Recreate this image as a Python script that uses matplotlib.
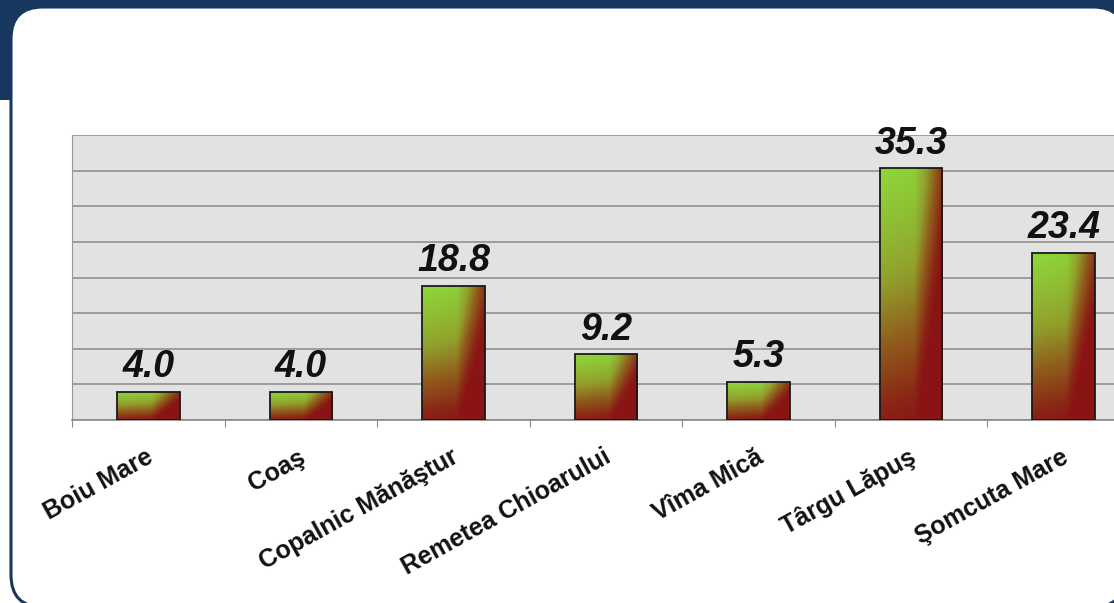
import numpy as np
import matplotlib
matplotlib.use("Agg")
from matplotlib import pyplot as plt
from matplotlib.patches import Rectangle, FancyBboxPatch
from matplotlib.colors import LinearSegmentedColormap

# data
places = ["Boiu Mare", "Coaş", "Copalnic Mănăştur", "Remetea Chioarului",
          "Vîma Mică", "Târgu Lăpuş", "Şomcuta Mare"]
values = [4.0, 4.0, 18.8, 9.2, 5.3, 35.3, 23.4]

navy = "#17375e"
W, H = 1114, 603

fig = plt.figure(figsize=(W / 100, H / 100), dpi=100)
fig.patch.set_facecolor(navy)

# frame: white strip left-bottom, rounded white card (pixel coords, origin bottom-left)
fig.patches.append(Rectangle((0, 0), 11, H - 100, transform=None, facecolor="white",
                             edgecolor="none", zorder=0.5))
fig.patches.append(Rectangle((0, 0), 34, 20, transform=None, facecolor="white",
                             edgecolor="none", zorder=0.5))
card = FancyBboxPatch((11, -4), 1125 - 11, H - 7 + 4,
                      boxstyle="round,pad=0,rounding_size=32", transform=None,
                      facecolor="white", edgecolor=navy, linewidth=2.2, zorder=1)
fig.patches.append(card)

ax = fig.add_axes([72 / W, (H - 420) / H, 1068 / W, 285 / H])
ax.set_zorder(2)
ax.set_facecolor("#e2e2e2")

cmap = LinearSegmentedColormap.from_list(
    "gr", [(0, "#8ed63a"), (0.35, "#92a02c"), (0.6, "#905c1c"),
           (0.85, "#8a2616"), (1, "#8a1414")])

x = np.arange(len(values))
width = 0.41
bars = ax.bar(x, values, width, facecolor="none", edgecolor="#1a1a1a",
              linewidth=1.3, zorder=4)

# gradient fill: green top-left, brown right edge, red bottom
gx = np.linspace(0, 1, 60)[None, :]
gy = np.linspace(0, 1, 120)[:, None]
grad = np.clip(0.9 * gy ** 1.2 + 0.1 * gx + 1.5 * np.clip(gx - 0.55, 0, 1), 0, 1)
for b in bars:
    x0 = b.get_x()
    im = ax.imshow(grad, cmap=cmap, extent=[x0, x0 + b.get_width(), 0, b.get_height()],
                   aspect="auto", origin="upper", zorder=3, interpolation="bilinear")
    im.set_clip_path(b)

for xi, v in zip(x, values):
    ax.annotate("%.1f" % v, (xi, v), xytext=(0, 5), textcoords="offset points",
                ha="center", va="bottom", fontsize=27, fontweight="bold",
                fontstyle="italic", family="Liberation Sans", color="#111111")

ax.set_xlim(-0.5, len(values) - 0.5)
ax.set_ylim(0, 40)
ax.set_yticks(np.arange(0, 41, 5))
ax.yaxis.grid(True, color="#8a8a8a", linewidth=1.1)
ax.set_axisbelow(True)
ax.tick_params(axis="y", left=False, labelleft=False)
ax.set_xticks(np.arange(-0.5, len(values), 1.0))
ax.tick_params(axis="x", direction="out", length=5, color="#888888", labelbottom=False)

for s in ["top", "right"]:
    ax.spines[s].set_visible(False)
ax.spines["left"].set_color("#999999")
ax.spines["bottom"].set_color("#888888")
ax.spines["bottom"].set_linewidth(1.2)

for xi, name in zip(x, places):
    ax.annotate(name, (xi, 0), xytext=(-2, -18), textcoords="offset points",
                ha="right", va="top", rotation=29, rotation_mode="anchor",
                fontsize=18, fontweight="bold", family="Liberation Sans",
                color="#111111", annotation_clip=False)

fig.savefig("out.png", dpi=100, facecolor=navy)
